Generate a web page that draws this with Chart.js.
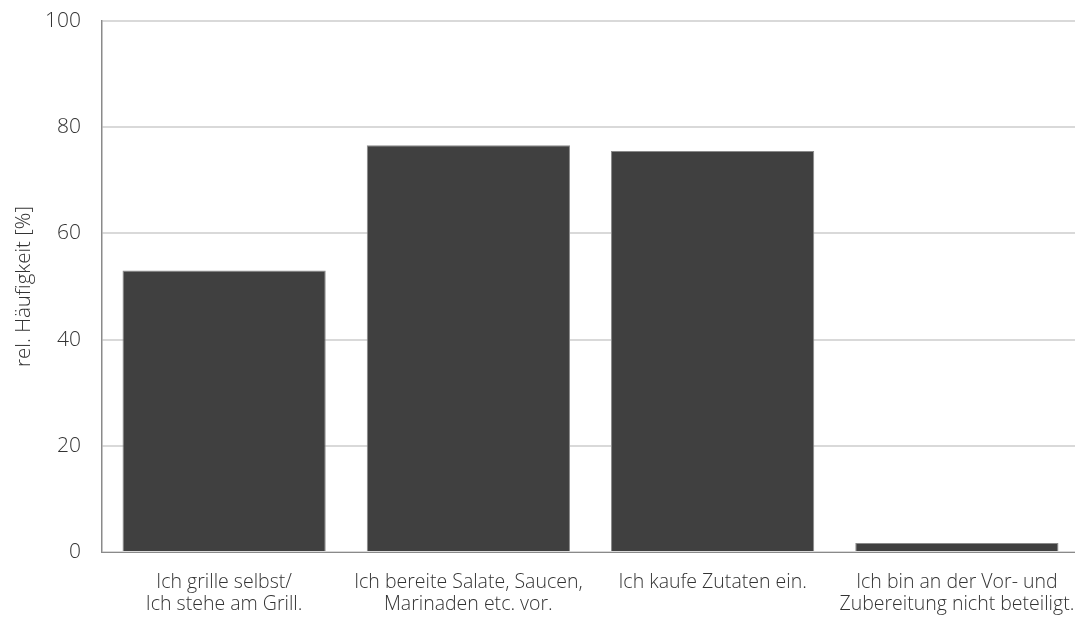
<!DOCTYPE html>
<html>
<head>
<meta charset="utf-8">
<script src="https://cdn.jsdelivr.net/npm/chart.js@4"></script>
<style>
  html, body { margin: 0; padding: 0; background: #fff; overflow: hidden; }
  #wrap { width: 1079px; height: 617px; position: relative; }
</style>
</head>
<body>
<div id="wrap"><canvas id="chart"></canvas></div>
<script>
// ===== Data =====
const categories = [
  ['Ich grille selbst/', 'Ich stehe am Grill.'],
  ['Ich bereite Salate, Saucen,', 'Marinaden etc. vor.'],
  ['Ich kaufe Zutaten ein.'],
  ['Ich bin an der Vor- und', 'Zubereitung nicht beteiligt.'],
];
const values = [53.0, 76.6, 75.5, 1.7];
const yTicks = [0, 20, 40, 60, 80, 100];

const FONT = '"Open Sans", "Liberation Sans", sans-serif';
const TEXT = '#333333';

new Chart(document.getElementById('chart'), {
  type: 'bar',
  data: {
    labels: categories,
    datasets: [{
      data: values,
      backgroundColor: '#404040',
      borderColor: '#8a8a8a',
      borderWidth: 1,
      barPercentage: 0.832,
      categoryPercentage: 1,
    }],
  },
  options: {
    responsive: true,
    maintainAspectRatio: false,
    animation: false,
    layout: { padding: { top: 21, right: 0, left: 0, bottom: 0 } },
    plugins: { legend: { display: false }, tooltip: { enabled: false } },
    scales: {
      x: {
        grid: { display: false, drawTicks: false },
        border: { color: '#8a8a8a', width: 1 },
        ticks: { color: TEXT, font: { family: FONT, size: 19.5, weight: 300, lineHeight: 1.13 }, padding: 19, maxRotation: 0, autoSkip: false },
        afterFit: s => { s.height = 65; s.paddingLeft = 0; s.paddingRight = 0; },
      },
      y: {
        min: 0, max: 100,
        afterBuildTicks: s => { s.ticks = yTicks.map(v => ({ value: v })); },
        grid: { color: '#d9d9d9', lineWidth: 2, drawTicks: false },
        border: { color: '#8a8a8a', width: 1.5 },
        ticks: { color: TEXT, font: { family: FONT, size: 21, weight: 300 }, padding: 21 },
        title: { display: true, text: 'rel. Häufigkeit [%]', color: TEXT, font: { family: FONT, size: 20.5, weight: 300 }, padding: { top: 12, bottom: 0 } },
        afterFit: s => { s.width = 102; s.paddingTop = 0; s.paddingBottom = 0; },
      },
    },
  },
});
</script>
</body>
</html>
